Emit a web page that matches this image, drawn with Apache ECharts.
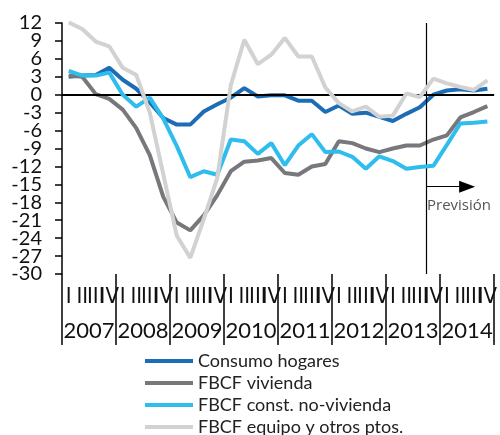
<!DOCTYPE html>
<html>
<head>
<meta charset="utf-8">
<script src="https://cdn.jsdelivr.net/npm/echarts@6/dist/echarts.min.js"></script>
<style>
  html, body { margin: 0; padding: 0; background: #fff; }
  #chart { width: 500px; height: 435px; }
</style>
</head>
<body>
<div id="chart"></div>
<script>
// quarterly growth rates, 2007 I .. 2014 IV
const years = ['2007', '2008', '2009', '2010', '2011', '2012', '2013', '2014'];
const quarterLabels = ['I', 'II', 'III', 'IV'];

const consumoHogares = [3.0, 3.2, 3.3, 4.5, 2.5, 1.0, -1.3, -3.9, -5.0, -5.0, -2.8, -1.6,
  -0.5, 1.1, -0.3, -0.1, -0.1, -1.0, -1.0, -2.9, -1.8, -3.2, -3.0, -3.7,
  -4.4, -3.2, -2.1, 0.0, 0.7, 0.9, 0.7, 1.0];
const fbcfVivienda = [3.2, 3.0, 0.1, -0.7, -2.5, -5.6, -10.1, -17.1, -21.4, -22.7, -20.2, -16.8,
  -12.8, -11.2, -11.0, -10.6, -13.1, -13.4, -12.0, -11.6, -7.8, -8.1, -9.0, -9.6,
  -9.0, -8.5, -8.5, -7.5, -6.8, -3.8, -2.9, -1.9];
const fbcfConstNoVivienda = [4.0, 3.2, 3.2, 3.7, 0.0, -2.0, -0.5, -4.0, -8.6, -13.8, -12.8, -13.4,
  -7.5, -7.8, -9.9, -8.1, -11.8, -8.5, -6.6, -9.6, -9.5, -10.4, -12.4, -10.3,
  -11.1, -12.4, -12.1, -11.9, -8.4, -4.8, -4.7, -4.5];
const fbcfEquipo = [12.1, 11.0, 8.9, 8.1, 4.5, 3.3, -3.0, -13.3, -23.6, -27.3, -20.8, -13.9,
  1.6, 9.2, 5.1, 6.7, 9.5, 6.4, 6.4, 1.2, -1.4, -2.8, -2.0, -3.7,
  -3.5, 0.2, -0.4, 2.7, 1.9, 1.3, 0.8, 2.4];

const seriesNames = ['Consumo hogares', 'FBCF vivienda', 'FBCF const. no-vivienda', 'FBCF equipo y otros ptos.'];
const seriesColors = ['#1c6db5', '#77777c', '#2fbdee', '#d2d2d2'];

const yMin = -30;
const yMax = 12;
const yStep = 3;

// forecast starts at 2013 IV (quarter index 27)
const forecastStart = 27;
const forecastArrowEnd = 30;
const forecastArrowY = -15.4;
const forecastLabelPos = [29.4, -18.5];

const categories = years.flatMap(y => quarterLabels.map(q => y + ' ' + q));

const chart = echarts.init(document.getElementById('chart'), null, { renderer: 'canvas' });

const lineSeries = [consumoHogares, fbcfVivienda, fbcfConstNoVivienda, fbcfEquipo].map((vals, i) => ({
  name: seriesNames[i],
  type: 'line',
  data: vals,
  showSymbol: false,
  symbol: 'none',
  lineStyle: { width: 4, color: seriesColors[i] },
  itemStyle: { color: seriesColors[i] },
  z: 3 + i
}));

// zero line
lineSeries[0].markLine = {
  silent: true,
  symbol: 'none',
  label: { show: false },
  lineStyle: { color: '#000', width: 2, type: 'solid' },
  data: [{ yAxis: 0 }]
};

const yLabelStyle = { margin: 20, fontFamily: 'Lato', fontSize: 20, color: '#111' };

const option = {
  animation: false,
  backgroundColor: '#fff',
  grid: { left: 62, right: 2, top: 23, bottom: 161 },
  legend: {
    data: seriesNames,
    orient: 'vertical',
    left: 145,
    top: 352,
    height: 100,
    padding: 0,
    icon: 'rect',
    itemWidth: 48,
    itemHeight: 4,
    itemGap: 4,
    selectedMode: false,
    textStyle: { fontFamily: 'Lato', fontSize: 18, color: '#222', lineHeight: 17 }
  },
  xAxis: [
    {
      type: 'category',
      data: categories,
      position: 'bottom',
      boundaryGap: true,
      axisLine: { show: false, onZero: false },
      axisTick: { show: false },
      axisLabel: {
        interval: 0,
        margin: 12,
        formatter: v => v.split(' ')[1],
        fontFamily: "'Liberation Sans Narrow', 'DejaVu Sans Condensed', sans-serif",
        fontSize: 22,
        color: '#111'
      }
    },
    {
      // year axis pushed down; ticks run back up to the plot bottom
      type: 'category',
      data: years,
      position: 'bottom',
      offset: 71,
      boundaryGap: true,
      axisLine: { show: false, onZero: false },
      axisTick: { show: true, inside: true, length: 71, lineStyle: { color: '#000', width: 1.5 } },
      axisLabel: { interval: 0, inside: true, margin: 3, fontFamily: 'Lato', fontSize: 22, color: '#111' }
    },
    { type: 'value', min: 0, max: 32, show: false, axisLine: { onZero: false } }
  ],
  yAxis: [
    {
      // inner labels (ends are drawn by the second axis so none get dropped)
      type: 'value',
      min: yMin,
      max: yMax,
      interval: yStep,
      position: 'left',
      axisLine: { show: true, onZero: false, lineStyle: { color: '#000', width: 1.5 } },
      axisTick: { show: true, length: 7, lineStyle: { color: '#000', width: 1.5 } },
      splitLine: { show: false },
      axisLabel: { ...yLabelStyle, formatter: v => (v === yMin || v === yMax) ? '' : String(v) }
    },
    {
      type: 'value',
      min: yMin,
      max: yMax,
      interval: yStep,
      position: 'left',
      offset: 0,
      axisLine: { show: false, onZero: false },
      axisTick: { show: false },
      splitLine: { show: false },
      axisLabel: {
        ...yLabelStyle,
        showMinLabel: true,
        showMaxLabel: true,
        formatter: v => (v === yMin || v === yMax) ? String(v) : ''
      }
    }
  ],
  series: [
    ...lineSeries,
    {
      name: 'forecast',
      type: 'line',
      xAxisIndex: 2,
      data: [],
      silent: true,
      z: 10,
      markLine: {
        silent: true,
        symbol: 'none',
        label: { show: false },
        lineStyle: { color: '#000', width: 1.2, type: 'solid' },
        data: [{ xAxis: forecastStart }]
      },
      markPoint: {
        silent: true,
        symbol: 'circle',
        symbolSize: 1,
        itemStyle: { color: 'rgba(0,0,0,0)' },
        label: {
          show: true,
          position: 'inside',
          formatter: 'Previsión',
          fontFamily: 'Open Sans',
          fontSize: 15,
          color: '#555'
        },
        data: [{ coord: forecastLabelPos }]
      }
    },
    {
      name: 'arrow',
      type: 'line',
      xAxisIndex: 2,
      data: [],
      silent: true,
      z: 10,
      markLine: {
        silent: true,
        symbol: ['none', 'triangle'],
        symbolSize: [12, 16],
        label: { show: false },
        lineStyle: { color: '#000', width: 1.2, type: 'solid' },
        itemStyle: { color: '#000' },
        data: [[{ coord: [forecastStart, forecastArrowY] }, { coord: [forecastArrowEnd, forecastArrowY] }]]
      }
    }
  ]
};

chart.setOption(option);
</script>
</body>
</html>
